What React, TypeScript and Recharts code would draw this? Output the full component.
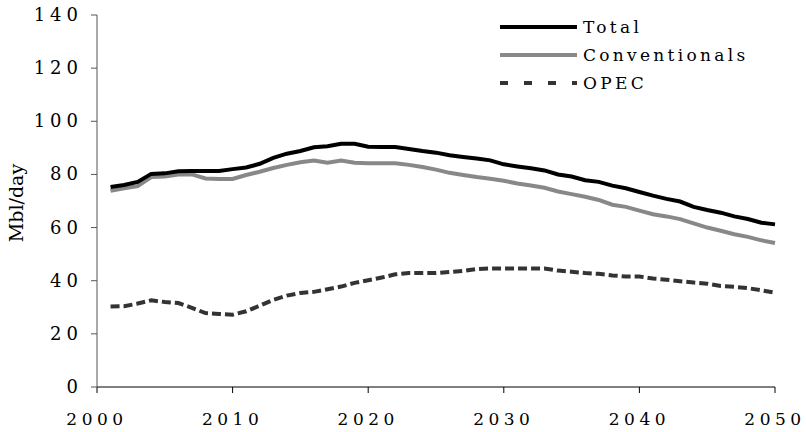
import { LineChart, Line, XAxis, YAxis } from "recharts";

const years = Array.from({ length: 50 }, (_, i) => 2001 + i);

const total = [
  75.3, 76.0, 77.2, 80.2, 80.4, 81.2, 81.3, 81.3, 81.3, 82.0,
  82.6, 84.0, 86.2, 87.8, 88.8, 90.2, 90.6, 91.5, 91.5, 90.4,
  90.3, 90.3, 89.6, 88.8, 88.2, 87.2, 86.6, 86.0, 85.3, 83.8,
  83.0, 82.3, 81.5, 80.0, 79.2, 77.8, 77.2, 75.8, 74.8, 73.4,
  72.0, 70.8, 69.8, 67.8, 66.6, 65.6, 64.2, 63.2, 61.8, 61.2,
];

const conventionals = [
  73.8, 74.8, 75.6, 79.0, 79.2, 80.0, 80.0, 78.5, 78.3, 78.3,
  79.8, 81.0, 82.4, 83.6, 84.6, 85.2, 84.4, 85.2, 84.4, 84.2,
  84.2, 84.2, 83.6, 82.8, 81.8, 80.6, 79.8, 79.0, 78.4, 77.6,
  76.6, 75.8, 75.0, 73.6, 72.6, 71.6, 70.4, 68.6, 67.8, 66.4,
  65.0, 64.2, 63.2, 61.6, 60.0, 58.8, 57.5, 56.5, 55.2, 54.2,
];

const opec = [
  30.3, 30.4, 31.4, 32.6, 32.0, 31.6, 29.8, 27.8, 27.5, 27.2,
  28.5, 30.6, 32.8, 34.4, 35.4, 35.8, 36.8, 37.8, 39.2, 40.2,
  41.2, 42.4, 42.9, 42.9, 42.9, 43.3, 43.7, 44.4, 44.6, 44.6,
  44.6, 44.6, 44.6, 43.8, 43.4, 42.9, 42.6, 42.0, 41.6, 41.6,
  40.8, 40.4, 39.8, 39.3, 38.9, 38.0, 37.7, 37.2, 36.4, 35.5,
];

const xTicks = [2000, 2010, 2020, 2030, 2040, 2050];
const yTicks = [0, 20, 40, 60, 80, 100, 120, 140];

const data = years.map((year, i) => ({
  year,
  Total: total[i],
  Conventionals: conventionals[i],
  OPEC: opec[i],
}));

const FONT = "'DejaVu Serif', serif";

const XTick = ({ x, y, payload }: any) => (
  <text
    x={x}
    y={y}
    dy={13}
    textAnchor="middle"
    fill="#000"
    style={{ fontFamily: FONT, fontSize: 17, letterSpacing: 4.5 }}
  >
    {payload.value}
  </text>
);

const YTick = ({ x, y, payload }: any) => (
  <text
    x={x}
    y={y}
    dy={6}
    textAnchor="end"
    fill="#000"
    style={{ fontFamily: FONT, fontSize: 18, letterSpacing: 5 }}
  >
    {payload.value}
  </text>
);

const legendItems = [
  { name: "Total", color: "#000", dash: undefined },
  { name: "Conventionals", color: "#888", dash: undefined },
  { name: "OPEC", color: "#333", dash: "8 16" },
];

// legend drawn as a plain overlay so it doesn't eat into the plot area
const LegendBox = () => (
  <div
    style={{
      position: "absolute",
      left: 500,
      top: 13,
      fontFamily: FONT,
      fontSize: 17,
      letterSpacing: 3.3,
      color: "#000",
    }}
  >
    {legendItems.map((it) => (
      <div key={it.name} style={{ display: "flex", alignItems: "center", height: 28 }}>
        <svg width={77} height={8} style={{ marginRight: 6 }}>
          <line x1={0} y1={4} x2={77} y2={4} stroke={it.color} strokeWidth={4} strokeDasharray={it.dash} />
        </svg>
        <span style={{ lineHeight: "28px" }}>{it.name}</span>
      </div>
    ))}
  </div>
);

export default function App() {
  return (
    <div style={{ position: "absolute", left: 0, top: 0, width: 806, height: 432, background: "#fff" }}>
      <LineChart width={806} height={432} data={data} margin={{ top: 15, right: 31, bottom: 15, left: 0 }}>
        <XAxis
          dataKey="year"
          type="number"
          domain={[2000, 2050]}
          ticks={xTicks}
          tickSize={6}
          tickMargin={19}
          height={30}
          stroke="#000"
          tick={<XTick />}
        />
        <YAxis
          type="number"
          domain={[0, 140]}
          ticks={yTicks}
          width={97}
          tickSize={6}
          tickMargin={8}
          stroke="#555"
          tick={<YTick />}
          label={{
            content: () => (
              <text
                x={16}
                y={203}
                transform="rotate(-90 16 203)"
                textAnchor="middle"
                dominantBaseline="central"
                fill="#000"
                style={{ fontFamily: FONT, fontSize: 19 }}
              >
                Mbl/day
              </text>
            ),
          }}
        />
        <Line dataKey="Conventionals" stroke="#888" strokeWidth={4} dot={false} isAnimationActive={false} />
        <Line dataKey="Total" stroke="#000" strokeWidth={4} dot={false} isAnimationActive={false} />
        <Line
          dataKey="OPEC"
          stroke="#333"
          strokeWidth={4}
          strokeDasharray="9 4"
          dot={false}
          isAnimationActive={false}
        />
      </LineChart>
      <LegendBox />
    </div>
  );
}
